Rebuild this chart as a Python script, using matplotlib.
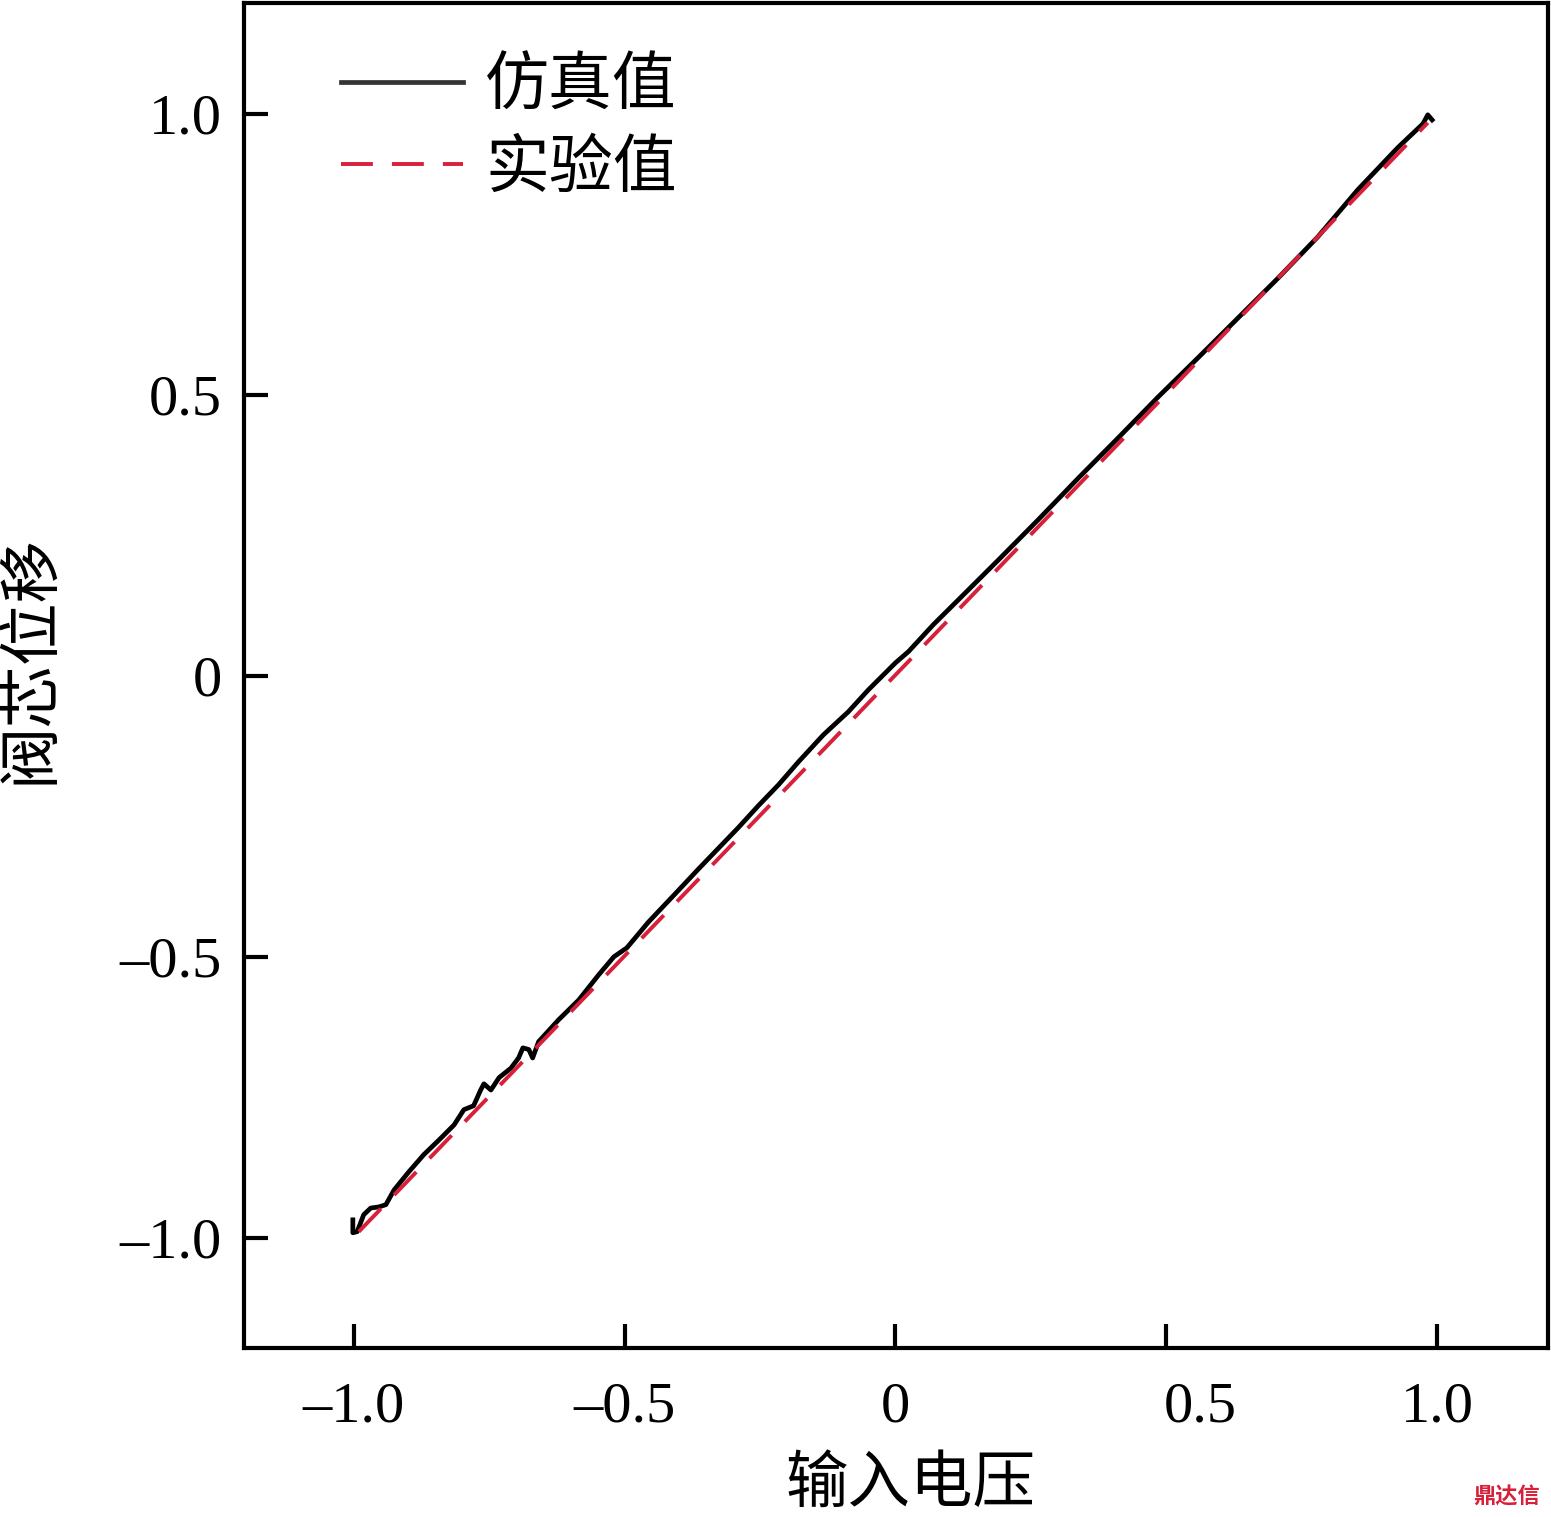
import matplotlib
matplotlib.use("Agg")
import matplotlib.pyplot as plt
from matplotlib.ticker import FixedLocator, FixedFormatter
from matplotlib.transforms import ScaledTranslation

plt.rcParams['font.family'] = ['Liberation Serif', 'Noto Sans CJK SC', 'DejaVu Sans']

# 仿真值 (simulation)
sim_x = [-1.002, -1.002, -0.994, -0.982, -0.969, -0.954, -0.941, -0.926, -0.899, -0.871,
         -0.843, -0.815, -0.797, -0.779, -0.766, -0.760, -0.747, -0.732, -0.710, -0.696,
         -0.688, -0.677, -0.670, -0.659, -0.622, -0.585, -0.548, -0.520, -0.496, -0.456,
         -0.400, -0.363, -0.290, -0.253, -0.216, -0.179, -0.133, -0.087, -0.050, 0.000,
         0.024, 0.070, 0.116, 0.190, 0.264, 0.338, 0.411, 0.485, 0.559, 0.633,
         0.707, 0.780, 0.854, 0.928, 0.974, 0.983, 0.991]
sim_y = [-0.968, -0.991, -0.989, -0.959, -0.947, -0.945, -0.941, -0.915, -0.883, -0.852,
         -0.826, -0.799, -0.772, -0.765, -0.737, -0.726, -0.737, -0.715, -0.698, -0.680,
         -0.662, -0.665, -0.680, -0.651, -0.612, -0.577, -0.532, -0.500, -0.484, -0.438,
         -0.381, -0.343, -0.270, -0.231, -0.194, -0.153, -0.105, -0.064, -0.025, 0.023,
         0.043, 0.091, 0.135, 0.206, 0.278, 0.352, 0.423, 0.496, 0.566, 0.637,
         0.708, 0.781, 0.865, 0.940, 0.982, 0.998, 0.989]

# 实验值 (experiment)
exp_x = [-0.991, 0.983]
exp_y = [-0.989, 0.984]

ticks = [-1.0, -0.5, 0.0, 0.5, 1.0]
x_ticklabels = ['\u20131.0', '\u20130.5', '0', '0.5', '1.0']
y_ticklabels = ['\u20131.0', '\u20130.5', '0', '0.5', '1.0']

fig = plt.figure(figsize=(15.51, 15.17), dpi=100)
ax = fig.add_axes([244/1551, 1 - 1348/1517, (1548-244)/1551, (1348-3)/1517])

ax.plot(sim_x, sim_y, color='black', lw=3.4, label='仿真值', solid_joinstyle='round')
ax.plot(exp_x, exp_y, color='#d8203a', lw=2.8, linestyle=(0, (8.2, 4.9)), label='实验值')

ax.set_xlim(-1.203, 1.205)
ax.set_ylim(-1.196, 1.197)

ax.xaxis.set_major_locator(FixedLocator(ticks))
ax.xaxis.set_major_formatter(FixedFormatter(x_ticklabels))
ax.yaxis.set_major_locator(FixedLocator(ticks))
ax.yaxis.set_major_formatter(FixedFormatter(y_ticklabels))

ax.tick_params(direction='in', length=17, width=3, labelsize=42, top=False, right=False)
ax.tick_params(axis='x', pad=24)
ax.tick_params(axis='y', pad=16)
for s in ax.spines.values():
    s.set_linewidth(3)

ax.set_xlabel('输入电压', fontsize=45, family=['Noto Sans CJK SC'])
ax.xaxis.set_label_coords(0.511, -0.077)
ax.set_ylabel('阀芯位移', fontsize=45, family=['Noto Sans CJK SC'])
ax.yaxis.set_label_coords(-0.139, 0.512)

leg = ax.legend(loc='upper left', bbox_to_anchor=(0.055, 0.982), frameon=False,
                prop={'family': 'Noto Sans CJK SC', 'size': 46},
                handlelength=1.9, handletextpad=0.35, labelspacing=0.25, borderaxespad=0.0)
leg.get_lines()[0].set_color('#333333')

fig.text(1540/1551, 1 - 1497/1517, '鼎达信', color='#d8203a', fontsize=16, fontweight='bold',
         ha='right', va='center', family=['Noto Sans CJK SC'])

# the "0.5" x tick label sits a little right of its tick in the reference
fig.canvas.draw()
lab = ax.xaxis.get_major_ticks()[3].label1
lab.set_transform(lab.get_transform() + ScaledTranslation(0.34, 0, fig.dpi_scale_trans))

fig.savefig('out.png', dpi=100)
